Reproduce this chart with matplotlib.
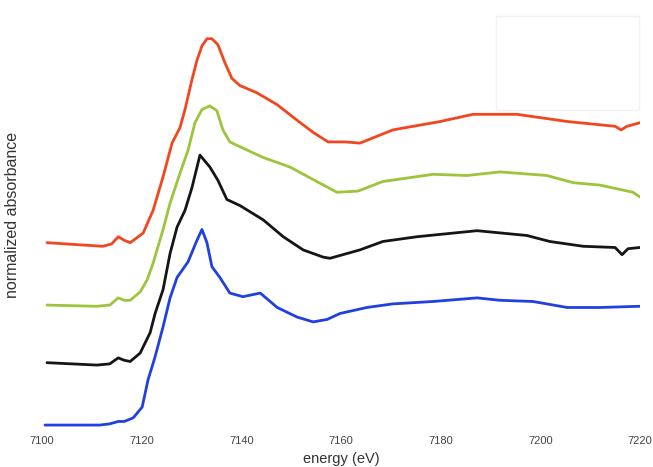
import matplotlib.pyplot as plt
from matplotlib.patches import Rectangle

# energies (eV) and normalized absorbance
red_e = [7101.0, 7112.2, 7114.0, 7115.3, 7116.5, 7117.7, 7120.3, 7122.3, 7124.3, 7126.1,
         7127.7, 7128.7, 7130.1, 7131.1, 7132.1, 7133.1, 7134.1, 7135.3, 7136.7, 7138.1, 7139.7,
         7143.1, 7147.2, 7151.2, 7154.4, 7157.4, 7160.8, 7163.8, 7170.4, 7179.9, 7186.5,
         7195.3, 7205.4, 7215.0, 7216.2, 7217.4, 7220.0]
red_a = [0.02, -0.01, 0.01, 0.07, 0.04, 0.02, 0.10, 0.29, 0.57, 0.85,
         0.98, 1.13, 1.38, 1.54, 1.66, 1.72, 1.72, 1.67, 1.52, 1.39, 1.33,
         1.27, 1.17, 1.04, 0.94, 0.86, 0.86, 0.85, 0.96, 1.03, 1.09,
         1.09, 1.03, 0.99, 0.96, 0.99, 1.02]

green_e = [7101.0, 7111.0, 7113.6, 7115.3, 7116.5, 7117.7, 7119.7, 7121.1, 7122.3, 7124.3,
           7125.7, 7127.7, 7129.3, 7130.7, 7132.1, 7133.7, 7135.1, 7136.3, 7137.7, 7139.7,
           7144.4, 7149.8, 7153.8, 7159.2, 7163.4, 7168.4, 7178.5, 7185.3, 7191.9, 7201.3,
           7206.6, 7212.0, 7218.6, 7220.0]
green_a = [0.0, -0.01, 0.0, 0.06, 0.04, 0.04, 0.11, 0.21, 0.35, 0.63,
           0.85, 1.10, 1.29, 1.52, 1.63, 1.66, 1.62, 1.46, 1.36, 1.32,
           1.23, 1.15, 1.06, 0.94, 0.95, 1.03, 1.09, 1.08, 1.11, 1.08,
           1.02, 1.00, 0.94, 0.90]

black_e = [7101.0, 7111.0, 7113.6, 7115.3, 7116.5, 7117.7, 7119.7, 7121.7, 7122.7, 7124.3,
           7125.7, 7127.1, 7128.7, 7130.1, 7131.7, 7133.7, 7135.3, 7137.1, 7139.7, 7144.4,
           7148.4, 7152.4, 7156.4, 7157.8, 7163.8, 7168.4, 7175.3, 7187.3, 7197.3, 7201.9,
           7208.6, 7215.0, 7216.4, 7217.6, 7220.0]
black_a = [0.02, 0.0, 0.01, 0.06, 0.04, 0.03, 0.10, 0.27, 0.43, 0.63,
           0.93, 1.15, 1.29, 1.48, 1.75, 1.65, 1.54, 1.38, 1.33, 1.21,
           1.07, 0.96, 0.90, 0.89, 0.96, 1.03, 1.07, 1.12, 1.08, 1.03,
           0.99, 0.98, 0.92, 0.97, 0.98]

blue_e = [7100.6, 7111.6, 7113.6, 7115.3, 7116.5, 7118.3, 7120.1, 7121.3, 7122.7, 7124.3,
          7125.7, 7127.1, 7129.3, 7131.1, 7132.1, 7133.1, 7134.1, 7135.7, 7137.7, 7140.3,
          7143.8, 7147.2, 7151.2, 7154.4, 7157.2, 7159.8, 7165.2, 7170.4, 7178.5, 7187.3,
          7191.9, 7198.5, 7205.4, 7212.0, 7220.0]
blue_a = [0.0, 0.0, 0.01, 0.03, 0.03, 0.06, 0.15, 0.38, 0.57, 0.82,
          1.06, 1.23, 1.36, 1.54, 1.63, 1.52, 1.32, 1.23, 1.10, 1.07,
          1.10, 0.98, 0.90, 0.86, 0.88, 0.93, 0.98, 1.01, 1.03, 1.06,
          1.04, 1.03, 0.98, 0.98, 0.99]

# vertical offsets used to stack the spectra
offsets = [1.5, 1.0, 0.5, 0.0]
colors = ['#f2461f', '#9cc43c', '#151515', '#2040e0']
energies = [red_e, green_e, black_e, blue_e]
absorb = [red_a, green_a, black_a, blue_a]

x_ticks = [7100, 7120, 7140, 7160, 7180, 7200, 7220]

fig = plt.figure(figsize=(6.53, 4.67), dpi=100)
ax = fig.add_axes([0.0643, 0.0749, 0.9158, 0.882])

for e, a, off, c in zip(energies, absorb, offsets, colors):
    ax.plot(e, [v + off for v in a], color=c, lw=2.0,
            solid_joinstyle='round', solid_capstyle='round')

ax.set_xlim(7100, 7220)
ax.set_ylim(-0.058, 3.375)
ax.set_xticks(x_ticks)
ax.set_xticklabels([str(t) for t in x_ticks])
ax.set_yticks([])
ax.tick_params(axis='x', length=0, pad=3, labelsize=8, labelcolor='#444444')
for lab in ax.get_xticklabels():
    lab.set_family('Liberation Sans')
for s in ax.spines.values():
    s.set_visible(False)

ax.set_xlabel('energy (eV)', fontsize=10.5, color='#333333', family='Liberation Sans', labelpad=4)
ax.set_ylabel('normalized absorbance', fontsize=11.5, color='#333333', family='Liberation Sans')
ax.yaxis.set_label_coords(-0.036, 0.527)

# faint empty legend frame in the top right
fig.patches.append(Rectangle((496 / 653, 1 - 110 / 467), 143 / 653, 94 / 467,
                             transform=fig.transFigure, fill=False,
                             edgecolor='#f2f2f2', lw=1.0))

fig.savefig('out.png', dpi=100)
